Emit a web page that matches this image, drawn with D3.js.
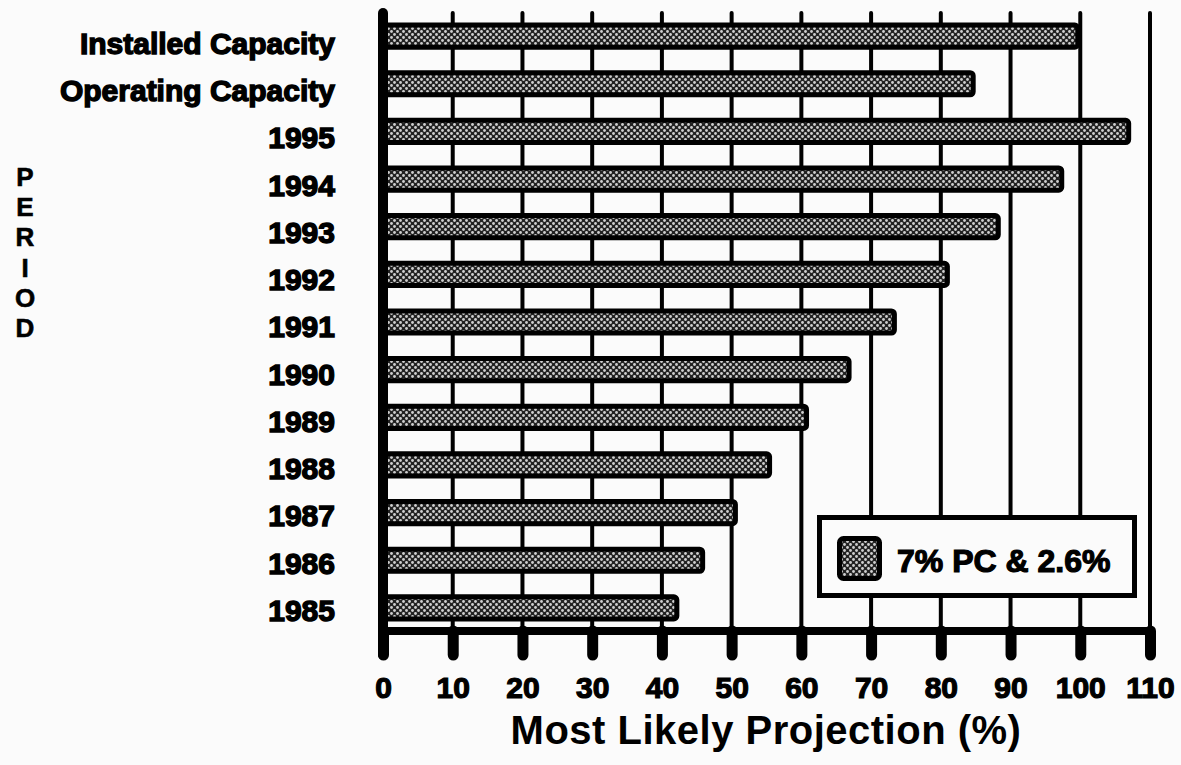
<!DOCTYPE html>
<html>
<head>
<meta charset="utf-8">
<script src="https://cdn.jsdelivr.net/npm/d3@7"></script>
<style>
  html, body { margin: 0; padding: 0; background: #fbfbfb; }
  svg { display: block; }
  text { font-family: "Liberation Sans", Arial, sans-serif; fill: #000; }
</style>
</head>
<body>
<div id="chart"></div>
<script>
// DATA
const categories = [
  "Installed Capacity", "Operating Capacity",
  "1995", "1994", "1993", "1992", "1991", "1990",
  "1989", "1988", "1987", "1986", "1985",
]
const values = [100, 85, 107.3, 97.7, 88.6, 81.3, 73.7, 67.2, 61.1, 55.8, 50.9, 46.2, 42.5]
const xTicks = [0, 10, 20, 30, 40, 50, 60, 70, 80, 90, 100, 110]
const seriesName = "7% PC & 2.6%"
const xTitle = "Most Likely Projection (%)"
const yTitle = "PERIOD"

const data = categories.map((c, i) => ({ name: c, value: values[i] }))

const drawBars = () => {
  // ACCESSOR
  const nameAccessor = d => d.name
  const valueAccessor = d => d.value

  // DIMENSIONS
  let dimensions = {
    width: 1181,
    height: 765,
    margin: { top: 13, right: 31, bottom: 134, left: 383 },
  }
  dimensions.boundedWidth = dimensions.width - dimensions.margin.left - dimensions.margin.right
  dimensions.boundedHeight = dimensions.height - dimensions.margin.top - dimensions.margin.bottom

  const wrapper = d3.select("#chart")
    .append("svg")
    .attr("width", dimensions.width)
    .attr("height", dimensions.height)

  // hatched fill
  const defs = wrapper.append("defs")
  const pattern = defs.append("pattern")
    .attr("id", "hatch")
    .attr("patternUnits", "userSpaceOnUse")
    .attr("width", 6)
    .attr("height", 6)
  pattern.append("rect")
    .attr("width", 6).attr("height", 6)
    .attr("fill", "#222")
  pattern.selectAll("circle")
    .data([[1.5, 1.5], [4.5, 4.5]])
    .join("circle")
      .attr("cx", d => d[0])
      .attr("cy", d => d[1])
      .attr("r", 1.4)
      .attr("fill", "#cfcfcf")

  // SCALES
  const xScale = d3.scaleLinear()
    .domain([0, 110])
    .range([dimensions.margin.left, dimensions.width - dimensions.margin.right])

  const yScale = d3.scaleBand()
    .domain(categories)
    .range([dimensions.margin.top, dimensions.margin.top + dimensions.boundedHeight])
    .paddingInner(0.43)
    .paddingOuter(0.2)

  // labels sit a little lower than the bars in the scan
  const labelScale = d3.scalePoint()
    .domain(categories)
    .range([43, 610])

  const axisY = dimensions.margin.top + dimensions.boundedHeight

  // GRID
  wrapper.append("g")
    .selectAll("line")
    .data(xTicks.filter(t => t > 0))
    .join("line")
      .attr("x1", d => xScale(d))
      .attr("x2", d => xScale(d))
      .attr("y1", dimensions.margin.top)
      .attr("y2", axisY)
      .attr("stroke", "#000")
      .attr("stroke-width", 4)
      .attr("stroke-linecap", "round")

  // BARS
  const sw = 5
  wrapper.append("g")
    .selectAll("rect")
    .data(data)
    .join("rect")
      .attr("x", xScale(0))
      .attr("y", d => yScale(nameAccessor(d)) + sw / 2)
      .attr("width", d => xScale(valueAccessor(d)) - xScale(0) - sw / 2)
      .attr("height", yScale.bandwidth() - sw)
      .attr("rx", 3)
      .attr("fill", "url(#hatch)")
      .attr("stroke", "#000")
      .attr("stroke-width", sw)

  // X AXIS
  const xAxisGenerator = d3.axisBottom(xScale)
    .tickValues(xTicks)
    .tickSize(24)
    .tickPadding(22)
    .tickSizeOuter(0)
  const xAxis = wrapper.append("g")
    .attr("transform", `translate(0, ${axisY})`)
    .call(xAxisGenerator)
  xAxis.select(".domain").remove()
  xAxis.selectAll(".tick line")
    .attr("stroke", "#000")
    .attr("stroke-width", 11)
    .attr("stroke-linecap", "round")
  xAxis.selectAll(".tick text")
    .attr("font-family", "'Liberation Sans', Arial, sans-serif")
    .attr("font-size", 30)
    .attr("font-weight", "bold")
    .attr("stroke", "#000")
    .attr("stroke-width", 1.2)

  wrapper.append("line")
    .attr("x1", xScale(0))
    .attr("x2", xScale(110))
    .attr("y1", axisY)
    .attr("y2", axisY)
    .attr("stroke", "#000")
    .attr("stroke-width", 8)
    .attr("stroke-linecap", "round")

  // Y AXIS line
  wrapper.append("line")
    .attr("x1", xScale(0))
    .attr("x2", xScale(0))
    .attr("y1", dimensions.margin.top)
    .attr("y2", axisY + 24)
    .attr("stroke", "#000")
    .attr("stroke-width", 10)
    .attr("stroke-linecap", "round")

  // Y LABELS
  wrapper.append("g")
    .selectAll("text")
    .data(categories)
    .join("text")
      .attr("x", 335)
      .attr("y", d => labelScale(d))
      .attr("dy", "0.36em")
      .attr("text-anchor", "end")
      .attr("font-size", 30)
      .attr("font-weight", "bold")
      .attr("stroke", "#000")
      .attr("stroke-width", 1.4)
      .text(d => d)

  // AXIS TITLES
  wrapper.append("text")
    .attr("x", 766)
    .attr("y", 744)
    .attr("text-anchor", "middle")
    .attr("font-size", 40)
    .attr("font-weight", "bold")
    .attr("letter-spacing", 0.5)
    .text(xTitle)

  wrapper.append("g")
    .selectAll("text")
    .data(yTitle.split(""))
    .join("text")
      .attr("x", 25)
      .attr("y", (d, i) => 186 + i * 30.2)
      .attr("text-anchor", "middle")
      .attr("font-size", 26)
      .attr("font-weight", "bold")
      .attr("stroke", "#000")
      .attr("stroke-width", 0.6)
      .text(d => d)

  // LEGEND
  const legend = wrapper.append("g")
  legend.append("rect")
    .attr("x", 819.5).attr("y", 517.5)
    .attr("width", 315).attr("height", 78)
    .attr("fill", "#fbfbfb")
    .attr("stroke", "#000")
    .attr("stroke-width", 5)
  legend.append("rect")
    .attr("x", 839.5).attr("y", 538.5)
    .attr("width", 40).attr("height", 40)
    .attr("rx", 4)
    .attr("fill", "url(#hatch)")
    .attr("stroke", "#000")
    .attr("stroke-width", 5)
  legend.append("text")
    .attr("x", 897)
    .attr("y", 572)
    .attr("font-size", 32)
    .attr("font-weight", "bold")
    .attr("stroke", "#000")
    .attr("stroke-width", 1.2)
    .text(seriesName)
}

drawBars()
</script>
</body>
</html>
